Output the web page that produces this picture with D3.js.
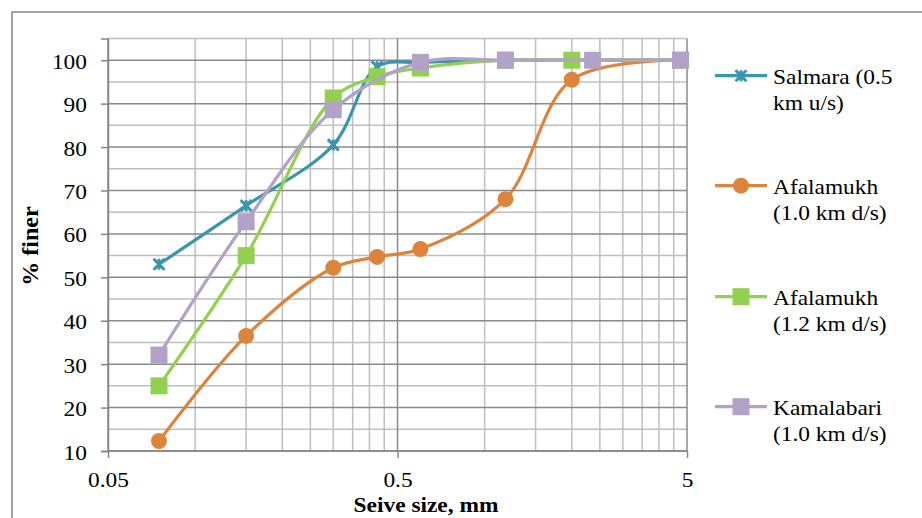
<!DOCTYPE html>
<html>
<head>
<meta charset="utf-8">
<script src="https://cdn.jsdelivr.net/npm/d3@7"></script>
<style>
  body { margin: 0; background: #fff; }
  svg text { font-family: "Liberation Serif", "Times New Roman", serif; fill: #000; }
</style>
</head>
<body>
<svg id="chart" width="922" height="518"></svg>
<script>
// sieve sizes (mm) and % finer
var salmaraSize = [0.075, 0.15, 0.3, 0.425, 0.6, 1.18, 2.36, 4.75];
var salmaraFiner = [53, 66.5, 80.5, 98.5, 99.5, 100, 100, 100];

var afala10Size = [0.075, 0.15, 0.3, 0.425, 0.6, 1.18, 2.0, 4.75];
var afala10Finer = [12.3, 36.5, 52.2, 54.7, 56.5, 68, 95.5, 100];

var afala12Size = [0.075, 0.15, 0.3, 0.425, 0.6, 1.18, 2.0, 4.75];
var afala12Finer = [25, 55, 91.3, 96.2, 98.2, 100, 100, 100];

var kamalSize = [0.075, 0.15, 0.3, 0.6, 1.18, 2.36, 4.75];
var kamalFiner = [32.1, 62.8, 88.6, 99.5, 100, 100, 100];

var seriesNames = [["Salmara (0.5", "km u/s)"], ["Afalamukh", "(1.0 km d/s)"], ["Afalamukh", "(1.2 km d/s)"], ["Kamalabari", "(1.0 km d/s)"]];
var seriesColors = ["#3b96ad", "#dd843b", "#92d050", "#b3a2c7"];
var seriesMarkers = ["star", "circle", "square", "square"];

var xTicks = [0.05, 0.5, 5];
var xMinor = [0.1, 0.15, 0.2, 0.25, 0.3, 0.35, 0.4, 0.45, 1, 1.5, 2, 2.5, 3, 3.5, 4, 4.5];
var yTicks = [10, 20, 30, 40, 50, 60, 70, 80, 90, 100];
var yMinor = [15, 25, 35, 45, 55, 65, 75, 85, 95, 105];

var series = [
  {size: salmaraSize, finer: salmaraFiner},
  {size: afala10Size, finer: afala10Finer},
  {size: afala12Size, finer: afala12Finer},
  {size: kamalSize, finer: kamalFiner}
];

var svg = d3.select("#chart");
var sx = 1.17; // text is a bit wide in the picture

svg.append("rect").attr("x", 12).attr("y", 12).attr("width", 930).attr("height", 530)
  .attr("fill", "none").attr("stroke", "#878787").attr("stroke-width", 1.5);

var x = d3.scaleLog().domain([0.05, 5]).range([108, 687]);
var y = d3.scaleLinear().domain([10, 105]).range([451, 38.5]);

// grid
var grid = svg.append("g");
grid.selectAll(".ym").data(yMinor).enter().append("line")
  .attr("x1", x(0.05)).attr("x2", x(5))
  .attr("y1", function(d) { return y(d); }).attr("y2", function(d) { return y(d); })
  .attr("stroke", "#bfbfbf").attr("stroke-width", 1.5);
grid.selectAll(".xm").data(xMinor).enter().append("line")
  .attr("x1", function(d) { return x(d); }).attr("x2", function(d) { return x(d); })
  .attr("y1", y(10)).attr("y2", y(105))
  .attr("stroke", "#bfbfbf").attr("stroke-width", 1.5);
grid.selectAll(".yM").data(yTicks).enter().append("line")
  .attr("x1", x(0.05)).attr("x2", x(5))
  .attr("y1", function(d) { return y(d); }).attr("y2", function(d) { return y(d); })
  .attr("stroke", "#8a8a8a").attr("stroke-width", 1.5);
grid.selectAll(".xM").data(xTicks).enter().append("line")
  .attr("x1", function(d) { return x(d); }).attr("x2", function(d) { return x(d); })
  .attr("y1", y(10)).attr("y2", y(105))
  .attr("stroke", "#8a8a8a").attr("stroke-width", 1.5);

// axes
var yAxis = svg.append("g").attr("transform", "translate(" + x(0.05) + ",0)")
  .call(d3.axisLeft(y).tickValues(yTicks).tickSize(7).tickPadding(11).tickFormat(d3.format("d")));
var xAxis = svg.append("g").attr("transform", "translate(0," + y(10) + ")")
  .call(d3.axisBottom(x).tickValues(xTicks).tickSize(7).tickPadding(14.5).tickFormat(function(d) { return String(d); }));

[yAxis, xAxis].forEach(function(a) {
  a.select(".domain").attr("stroke", "#868686").attr("stroke-width", 1.5);
  a.selectAll(".tick line").attr("stroke", "#868686").attr("stroke-width", 1.5);
  a.selectAll("text").attr("font-size", 20).attr("font-family", "Liberation Serif")
    .attr("transform", "scale(" + sx + ",1)");
});
yAxis.selectAll("text").attr("dy", "0.4em");
xAxis.selectAll(".domain").remove();
svg.append("line").attr("x1", x(0.05)).attr("x2", x(5)).attr("y1", y(10)).attr("y2", y(10))
  .attr("stroke", "#868686").attr("stroke-width", 1.5);

// titles
svg.append("text").attr("transform", "translate(426,512) scale(" + sx + ",1)")
  .attr("text-anchor", "middle").attr("font-size", 20).attr("font-weight", "bold")
  .text("Seive size, mm");
svg.append("text").attr("transform", "translate(38,246) rotate(-90)")
  .attr("text-anchor", "middle").attr("font-size", 24).attr("font-weight", "bold")
  .text("% finer");

// lines
var line = d3.line()
  .x(function(d) { return x(d[0]); })
  .y(function(d) { return y(d[1]); })
  .curve(d3.curveCatmullRom.alpha(0.5));

function drawMarker(g, type, color, cx, cy) {
  if (type == "circle") {
    g.append("circle").attr("cx", cx).attr("cy", cy).attr("r", 8).attr("fill", color);
  } else if (type == "square") {
    g.append("rect").attr("x", cx - 8.5).attr("y", cy - 8.5).attr("width", 17).attr("height", 17).attr("fill", color);
  } else {
    var s = 5.5;
    g.append("path")
      .attr("d", "M" + (cx - s) + "," + (cy - s) + "L" + (cx + s) + "," + (cy + s) +
        "M" + (cx - s) + "," + (cy + s) + "L" + (cx + s) + "," + (cy - s) +
        "M" + cx + "," + (cy - s) + "L" + cx + "," + (cy + s))
      .attr("stroke", color).attr("stroke-width", 3).attr("fill", "none");
  }
}

series.forEach(function(s, i) {
  var pts = s.size.map(function(v, j) { return [v, s.finer[j]]; });
  var g = svg.append("g");
  g.append("path").attr("d", line(pts)).attr("fill", "none")
    .attr("stroke", seriesColors[i]).attr("stroke-width", 3.2);
  pts.forEach(function(p) {
    drawMarker(g, seriesMarkers[i], seriesColors[i], x(p[0]), y(p[1]));
  });
});

// legend
var legendY = [75.7, 185.7, 296.7, 406.7];
seriesNames.forEach(function(name, i) {
  var g = svg.append("g");
  var cy = legendY[i];
  g.append("line").attr("x1", 715).attr("x2", 767).attr("y1", cy).attr("y2", cy)
    .attr("stroke", seriesColors[i]).attr("stroke-width", 3.2);
  drawMarker(g, seriesMarkers[i], seriesColors[i], 741, cy);
  g.append("text").attr("transform", "translate(773," + (cy + 8.5) + ") scale(" + sx + ",1)")
    .attr("font-size", 20).text(name[0]);
  g.append("text").attr("transform", "translate(773," + (cy + 34.5) + ") scale(" + sx + ",1)")
    .attr("font-size", 20).text(name[1]);
});
</script>
</body>
</html>
